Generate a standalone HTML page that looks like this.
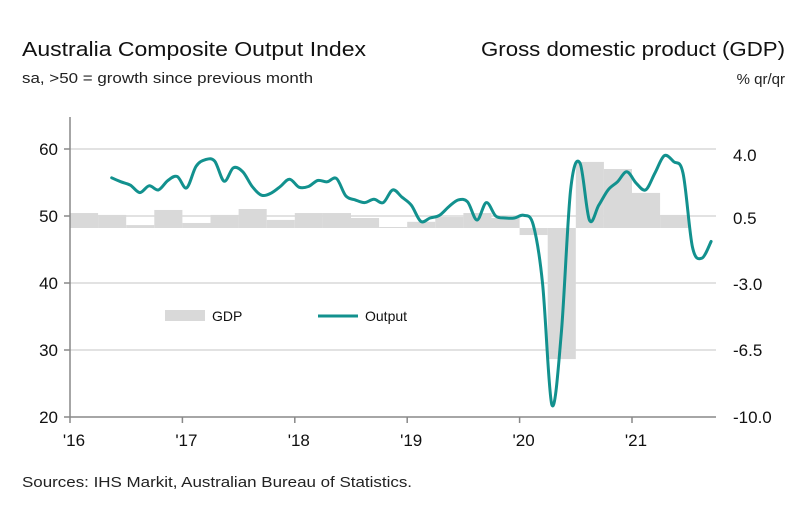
<!DOCTYPE html>
<html><head><meta charset="utf-8">
<style>
html,body{margin:0;padding:0;background:#fff;}
svg{display:block;font-family:"Liberation Sans",Arial,sans-serif;}
</style></head>
<body>
<svg id="chart" width="807" height="510" viewBox="0 0 807 510" xmlns="http://www.w3.org/2000/svg">
  <text x="22" y="56" font-size="20" fill="#111" textLength="344" lengthAdjust="spacingAndGlyphs">Australia Composite Output Index</text>
  <text x="22" y="83" font-size="15" fill="#222" textLength="291" lengthAdjust="spacingAndGlyphs">sa, &gt;50 = growth since previous month</text>
  <text x="785" y="56" font-size="20" fill="#111" text-anchor="end" textLength="304" lengthAdjust="spacingAndGlyphs">Gross domestic product (GDP)</text>
  <text x="785" y="84" font-size="15" fill="#222" text-anchor="end">% qr/qr</text>
  <g id="grid"></g>
  <g id="bars"></g>
  <g id="axes"></g>
  <path id="line" fill="none" stroke="#12918e" stroke-width="3" stroke-linejoin="round" stroke-linecap="round"></path>
  <g>
    <rect x="165" y="310" width="40" height="11" fill="#d9d9d9"></rect>
    <text x="212" y="321" font-size="14" fill="#111">GDP</text>
    <line x1="318" y1="316" x2="358" y2="316" stroke="#12918e" stroke-width="3"></line>
    <text x="365" y="321" font-size="14" fill="#111">Output</text>
  </g>
  <text x="22" y="487" font-size="15" fill="#222" textLength="390" lengthAdjust="spacingAndGlyphs">Sources: IHS Markit, Australian Bureau of Statistics.</text>
</svg>
<script>
// ---- data ----
const yearLabels = ["'16","'17","'18","'19","'20","'21"];
const leftTicks = [60, 50, 40, 30, 20];
const rightTickLabels = ["4.0", "0.5", "-3.0", "-6.5", "-10.0"];
// GDP quarterly, 2016Q1..2021Q2 (% q/q as drawn)
const gdpValues = [0.26,0.16,-0.37,0.42,-0.26,0.16,0.47,-0.1,0.26,0.26,0.0,-0.47,-0.2,0.05,0.26,0.0,-0.89,-7.37,2.93,2.56,1.31,0.16];
// Output index monthly starting May 2016
const outputStartMonth = 4; // months since Jan 2016
const outputValues = [55.7,55.1,54.6,53.5,54.5,53.9,55.3,55.9,
  54.2,57.4,58.4,58.2,55.2,57.2,56.6,54.4,53.1,53.4,54.4,55.5,
  54.3,54.4,55.3,55.1,55.6,53.0,52.4,52.0,52.5,52.0,53.9,52.8,
  51.6,49.2,49.7,50.1,51.4,52.4,52.1,49.4,52.0,50.0,49.7,49.7,
  50.1,48.7,40.0,21.8,32.5,53.9,57.9,49.4,51.6,53.9,55.1,56.6,
  54.9,53.9,56.4,59.0,58.1,56.4,45.4,43.7,46.2];

// ---- scales ----
const X0 = 70, YEAR = 112.4, XEND = 716;
const xMonth = m => X0 + YEAR * m / 12;
const yLeft = v => 216 - (v - 50) * 6.7;
const GDP_ZERO = 218, GDP_S = 19.14, GDP_BASE = 228;
const yGdp = v => GDP_ZERO - v * GDP_S;
const NS = "http://www.w3.org/2000/svg";
function mk(tag, attrs, parent){const e=document.createElementNS(NS,tag);for(const k in attrs)e.setAttribute(k,attrs[k]);parent.appendChild(e);return e;}

const grid = document.getElementById('grid');
const axes = document.getElementById('axes');
const rightLabelY = [155, 218, 284, 350, 417];
leftTicks.forEach((t,i)=>{
  const y = yLeft(t);
  if (t !== 20) {
    const g = mk('line',{x1:X0,x2:XEND,y1:y,y2:y,stroke:'#d9d9d9','stroke-width':1.5},grid);
    
    
  }
  const tk = mk('line',{x1:X0-6,x2:X0,y1:y,y2:y,stroke:'#888','stroke-width':1.5},axes);
  
  
  const lb = mk('text',{x:58,y:y+6,'font-size':17,'text-anchor':'end',fill:'#111'},axes);
  lb.textContent = t;
  
  
  const rl = mk('text',{x:733,y:rightLabelY[i]+6,'font-size':17,fill:'#111'},axes);
  rl.textContent = rightTickLabels[i];
  
  
});
const ya = mk('line',{x1:X0,x2:X0,y1:117,y2:417,stroke:'#888','stroke-width':1.5},axes);


const xa = mk('line',{x1:X0,x2:XEND,y1:417,y2:417,stroke:'#888','stroke-width':1.5},axes);


yearLabels.forEach((lab,i)=>{
  const x = xMonth(i*12);
  const t = mk('line',{x1:x,x2:x,y1:417,y2:423,stroke:'#888','stroke-width':1.5},axes);
  
  
  const l = mk('text',{x:x+4,y:446,'font-size':17,'text-anchor':'middle',fill:'#111'},axes);
  l.textContent = lab;
  
  
});

const bars = document.getElementById('bars');
gdpValues.forEach((v,i)=>{
  const x1 = xMonth(i*3), x2 = xMonth(i*3+3);
  const y = yGdp(v);
  const top = Math.min(y, GDP_BASE), bot = Math.max(y, GDP_BASE);
  const r = mk('rect',{x:x1,y:top,width:x2-x1,height:Math.max(bot-top,0.5),fill:'#d9d9d9'},bars);
  
  
});

const pts = outputValues.map((v,i)=>[xMonth(outputStartMonth+i+0.45), yLeft(v)]);
let d = 'M'+pts[0][0].toFixed(1)+','+pts[0][1].toFixed(1);
for (let i=0;i<pts.length-1;i++){
  const p0=pts[Math.max(i-1,0)], p1=pts[i], p2=pts[i+1], p3=pts[Math.min(i+2,pts.length-1)];
  const c1=[p1[0]+(p2[0]-p0[0])/6, p1[1]+(p2[1]-p0[1])/6];
  const c2=[p2[0]-(p3[0]-p1[0])/6, p2[1]-(p3[1]-p1[1])/6];
  d += ' C'+c1[0].toFixed(1)+','+c1[1].toFixed(1)+' '+c2[0].toFixed(1)+','+c2[1].toFixed(1)+' '+p2[0].toFixed(1)+','+p2[1].toFixed(1);
}
document.getElementById('line').setAttribute('d', d);
</script>
</body></html>
